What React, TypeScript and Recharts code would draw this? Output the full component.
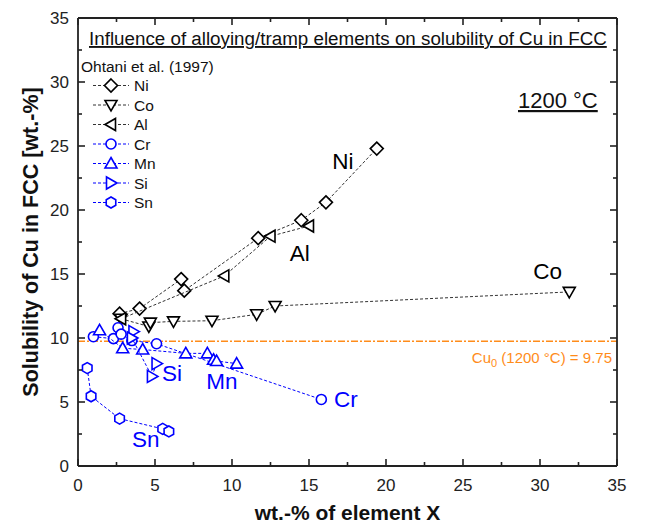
import React from 'react';
import { ScatterChart, Scatter, XAxis, YAxis, ReferenceLine, ReferenceDot, Legend } from 'recharts';

const FONT = 'Arial, "Liberation Sans", Helvetica, sans-serif';
const BLACK = '#000000';
const AXIS = '#222222';
const BLUE = '#0000FF';
const ORANGE = '#FF8C1A';

// [wt.-% X, solubility of Cu]
const niPoints: number[][] = [[2.7, 11.9], [4.0, 12.3], [6.7, 14.6], [6.9, 13.7], [11.7, 17.8], [14.5, 19.2], [16.1, 20.6], [19.4, 24.8]];
const coPoints: number[][] = [[2.8, 11.5], [4.6, 10.9], [4.7, 11.2], [6.2, 11.3], [8.7, 11.35], [11.6, 11.85], [12.8, 12.5], [31.9, 13.6]];
const alPoints: number[][] = [[2.8, 11.5], [9.5, 14.85], [12.5, 17.95], [15.0, 18.75]];
const crPoints: number[][] = [[1.0, 10.1], [2.3, 9.95], [2.6, 10.8], [2.8, 10.3], [3.5, 9.8], [5.1, 9.55], [15.8, 5.2]];
const mnPoints: number[][] = [[1.4, 10.6], [2.9, 9.2], [4.2, 9.1], [7.0, 8.8], [8.4, 8.8], [8.8, 8.3], [9.0, 8.2], [10.3, 8.0]];
const siPoints: number[][] = [[3.6, 10.5], [3.5, 10.0], [4.8, 7.0], [5.1, 8.0]];
const snPoints: number[][] = [[0.6, 7.65], [0.85, 5.45], [2.7, 3.7], [5.5, 2.9], [5.9, 2.7]];

const cu0 = 9.75;
const xTicks = [0, 2.5, 5, 7.5, 10, 12.5, 15, 17.5, 20, 22.5, 25, 27.5, 30, 32.5, 35];
const yTicks = [0, 2.5, 5, 7.5, 10, 12.5, 15, 17.5, 20, 22.5, 25, 27.5, 30, 32.5, 35];

const labelPos: { name: string; x: number; y: number; color: string }[] = [
  { name: 'Ni', x: 17.2, y: 23.8, color: BLACK },
  { name: 'Al', x: 14.4, y: 16.6, color: BLACK },
  { name: 'Co', x: 30.5, y: 15.2, color: BLACK },
  { name: 'Cr', x: 17.4, y: 5.2, color: BLUE },
  { name: 'Mn', x: 9.35, y: 6.6, color: BLUE },
  { name: 'Si', x: 6.1, y: 7.2, color: BLUE },
  { name: 'Sn', x: 4.4, y: 2.1, color: BLUE },
];

type ShapeKind = 'diamond' | 'triDown' | 'triLeft' | 'circle' | 'triUp' | 'triRight' | 'hexagon';

const S = 6;
function markerPath(kind: ShapeKind, cx: number, cy: number): string {
  switch (kind) {
    case 'diamond':
      return `M${cx},${cy - S - 0.5}L${cx + S + 0.5},${cy}L${cx},${cy + S + 0.5}L${cx - S - 0.5},${cy}Z`;
    case 'triDown':
      return `M${cx - S},${cy - S * 0.75}L${cx + S},${cy - S * 0.75}L${cx},${cy + S}Z`;
    case 'triLeft':
      return `M${cx - S},${cy}L${cx + S * 0.75},${cy - S}L${cx + S * 0.75},${cy + S}Z`;
    case 'triUp':
      return `M${cx},${cy - S}L${cx + S},${cy + S * 0.75}L${cx - S},${cy + S * 0.75}Z`;
    case 'triRight':
      return `M${cx + S},${cy}L${cx - S * 0.75},${cy - S}L${cx - S * 0.75},${cy + S}Z`;
    case 'hexagon': {
      const r = 5.5;
      const pts = [0, 1, 2, 3, 4, 5].map((i) => {
        const a = (Math.PI / 3) * i + Math.PI / 6;
        return `${cx + r * Math.cos(a)},${cy + r * Math.sin(a)}`;
      });
      return `M${pts.join('L')}Z`;
    }
    default:
      return '';
  }
}

function Marker({ kind, cx, cy, color }: { kind: ShapeKind; cx: number; cy: number; color: string }) {
  if (kind === 'circle') {
    return <circle cx={cx} cy={cy} r={5} fill="#fff" stroke={color} strokeWidth={1.6} />;
  }
  return <path d={markerPath(kind, cx, cy)} fill="#fff" stroke={color} strokeWidth={1.6} strokeLinejoin="miter" />;
}

const series: { name: string; points: number[][]; color: string; kind: ShapeKind }[] = [
  { name: 'Ni', points: niPoints, color: BLACK, kind: 'diamond' },
  { name: 'Co', points: coPoints, color: BLACK, kind: 'triDown' },
  { name: 'Al', points: alPoints, color: BLACK, kind: 'triLeft' },
  { name: 'Cr', points: crPoints, color: BLUE, kind: 'circle' },
  { name: 'Mn', points: mnPoints, color: BLUE, kind: 'triUp' },
  { name: 'Si', points: siPoints, color: BLUE, kind: 'triRight' },
  { name: 'Sn', points: snPoints, color: BLUE, kind: 'hexagon' },
];

const isMajor = (v: number) => Math.abs(v % 5) < 1e-6;

const BottomTick = (props: any) => {
  const { x, y, payload } = props;
  const v = payload.value;
  const major = isMajor(v);
  return (
    <g>
      <line x1={x} x2={x} y1={y} y2={y - (major ? 7 : 4)} stroke={AXIS} strokeWidth={1.6} />
      {major && (
        <text x={x} y={y + 25} textAnchor="middle" fontSize={17} fontFamily={FONT} fill="#222">
          {v}
        </text>
      )}
    </g>
  );
};

const TopTick = (props: any) => {
  const { x, y, payload } = props;
  const major = isMajor(payload.value);
  return <line x1={x} x2={x} y1={y} y2={y + (major ? 7 : 4)} stroke={AXIS} strokeWidth={1.6} />;
};

const LeftTick = (props: any) => {
  const { x, y, payload } = props;
  const v = payload.value;
  const major = isMajor(v);
  return (
    <g>
      <line x1={x} x2={x + (major ? 7 : 4)} y1={y} y2={y} stroke={AXIS} strokeWidth={1.6} />
      {major && (
        <text x={x - 9} y={y + 6} textAnchor="end" fontSize={17} fontFamily={FONT} fill="#222">
          {v}
        </text>
      )}
    </g>
  );
};

const RightTick = (props: any) => {
  const { x, y, payload } = props;
  const major = isMajor(payload.value);
  return <line x1={x} x2={x - (major ? 7 : 4)} y1={y} y2={y} stroke={AXIS} strokeWidth={1.6} />;
};

const XTitle = (props: any) => {
  const vb = props.viewBox || {};
  return (
    <text x={vb.x + vb.width / 2} y={520} textAnchor="middle" fontSize={21} fontWeight="bold" fontFamily={FONT} fill="#111">
      wt.-% of element X
    </text>
  );
};

const YTitle = (props: any) => {
  const vb = props.viewBox || {};
  const cy = vb.y + vb.height / 2;
  return (
    <text x={31} y={cy} transform={`rotate(-90, 31, ${cy})`} textAnchor="middle" dominantBaseline="central" fontSize={21.5} fontWeight="bold" fontFamily={FONT} fill="#111">
      Solubility of Cu in FCC [wt.-%]
    </text>
  );
};

const Cu0Label = (props: any) => {
  const vb = props.viewBox || {};
  return (
    <text x={vb.x + vb.width - 5} y={vb.y + 22} textAnchor="end" fontSize={15} fontFamily={FONT} fill={ORANGE}>
      Cu<tspan fontSize={11} dy={4}>0</tspan>
      <tspan dy={-4}> (1200 °C) = 9.75</tspan>
    </text>
  );
};

const LegendContent = () => {
  return (
    <svg width={646} height={523} style={{ position: 'absolute', left: 0, top: 0, overflow: 'visible' }}>
      <text x={89} y={45} fontSize={18.8} fontFamily={FONT} fill="#111" style={{ textDecoration: 'underline' }}>
        Influence of alloying/tramp elements on solubility of Cu in FCC
      </text>
      <text x={81} y={72} fontSize={15.5} fontFamily={FONT} fill="#111">
        Ohtani et al. (1997)
      </text>
      {series.map((s, i) => {
        const cy = 85.5 + i * 19.5;
        return (
          <g key={s.name}>
            <line x1={93} x2={129} y1={cy} y2={cy} stroke={s.color === BLACK ? '#333' : BLUE} strokeWidth={1} strokeDasharray="3 2" />
            <Marker kind={s.kind} cx={111} cy={cy} color={s.color} />
            <text x={134} y={cy + 5.5} fontSize={15.5} fontFamily={FONT} fill="#111">
              {s.name}
            </text>
          </g>
        );
      })}
      <text x={518} y={108} fontSize={22} fontFamily={FONT} fill="#111" style={{ textDecoration: 'underline' }}>
        1200 °C
      </text>
    </svg>
  );
};

export default function App() {
  return (
    <div style={{ position: 'fixed', left: 0, top: 0, width: 646, height: 523, background: '#fff' }}>
      <ScatterChart width={646} height={523} margin={{ top: 0, right: 0, bottom: 0, left: 0 }}>
        <XAxis
          xAxisId="b"
          type="number"
          dataKey="x"
          domain={[0, 35]}
          ticks={xTicks}
          interval={0}
          orientation="bottom"
          height={57}
          tickLine={false}
          tickSize={0}
          tickMargin={0}
          axisLine={{ stroke: AXIS, strokeWidth: 1.8 }}
          tick={BottomTick}
          label={<XTitle />}
          allowDataOverflow
        />
        <XAxis
          xAxisId="t"
          type="number"
          dataKey="x"
          domain={[0, 35]}
          ticks={xTicks}
          interval={0}
          orientation="top"
          height={18}
          tickLine={false}
          tickSize={0}
          tickMargin={0}
          axisLine={{ stroke: AXIS, strokeWidth: 1.8 }}
          tick={TopTick}
          allowDataOverflow
        />
        <YAxis
          yAxisId="l"
          type="number"
          dataKey="y"
          domain={[0, 35]}
          ticks={yTicks}
          interval={0}
          orientation="left"
          width={78}
          tickLine={false}
          tickSize={0}
          tickMargin={0}
          axisLine={{ stroke: AXIS, strokeWidth: 1.8 }}
          tick={LeftTick}
          label={<YTitle />}
          allowDataOverflow
        />
        <YAxis
          yAxisId="r"
          type="number"
          dataKey="y"
          domain={[0, 35]}
          ticks={yTicks}
          interval={0}
          orientation="right"
          width={29}
          tickLine={false}
          tickSize={0}
          tickMargin={0}
          axisLine={{ stroke: AXIS, strokeWidth: 1.8 }}
          tick={RightTick}
          allowDataOverflow
        />
        <ReferenceLine
          xAxisId="b"
          yAxisId="l"
          y={cu0}
          stroke={ORANGE}
          strokeWidth={1.5}
          strokeDasharray="7 2 2 2"
          label={<Cu0Label />}
        />
        {series.map((s) => (
          <Scatter
            key={s.name}
            name={s.name}
            xAxisId="b"
            yAxisId="l"
            data={s.points.map(([x, y]) => ({ x, y }))}
            isAnimationActive={false}
            line={{ stroke: s.color === BLACK ? '#333' : BLUE, strokeWidth: 1, strokeDasharray: '3 2' }}
            lineJointType="linear"
            shape={(p: any) => <Marker kind={s.kind} cx={p.cx} cy={p.cy} color={s.color} />}
          />
        ))}
        {labelPos.map((l) => (
          <ReferenceDot
            key={l.name}
            xAxisId="b"
            yAxisId="l"
            x={l.x}
            y={l.y}
            r={0}
            shape={(p: any) => (
              <text x={p.cx} y={p.cy} textAnchor="middle" dominantBaseline="central" fontSize={22.5} fontFamily={FONT} fill={l.color}>
                {l.name}
              </text>
            )}
          />
        ))}
        <Legend layout="vertical" align="center" verticalAlign="middle" content={<LegendContent />} wrapperStyle={{ position: 'absolute', left: 0, top: 0, width: 646, height: 523, pointerEvents: 'none' }} />
      </ScatterChart>
    </div>
  );
}
